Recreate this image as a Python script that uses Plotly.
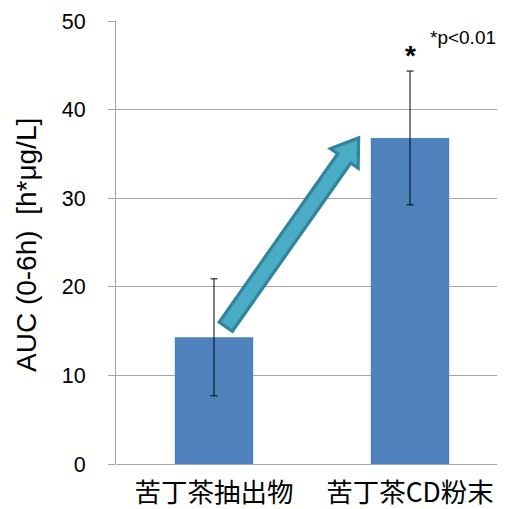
import numpy as np
import plotly.graph_objects as go

categories = ["苦丁茶抽出物", "苦丁茶CD粉末"]
auc_values = [14.3, 36.8]
auc_sd = [6.6, 7.55]
y_ticks = [0, 10, 20, 30, 40, 50]
y_title = "AUC (0-6h)\u00a0 [h*μg/L]"
sig_note = "*p<0.01"

W_FIG, H_FIG = 505, 509
M_L, M_R, M_T, M_B = 108, 0, 13, 53
X_RANGE = [-0.5, 1.5255]
Y_RANGE = [0, 50]
PW = W_FIG - M_L - M_R
PH = H_FIG - M_T - M_B

def to_px(x, y):
    px = M_L + (x - X_RANGE[0]) / (X_RANGE[1] - X_RANGE[0]) * PW
    py = M_T + (1 - (y - Y_RANGE[0]) / (Y_RANGE[1] - Y_RANGE[0])) * PH
    return np.array([px, py])

def to_data(p):
    x = X_RANGE[0] + (p[0] - M_L) / PW * (X_RANGE[1] - X_RANGE[0])
    y = Y_RANGE[0] + (1 - (p[1] - M_T) / PH) * (Y_RANGE[1] - Y_RANGE[0])
    return x, y

def paper(px, py):
    return (px - M_L) / PW, 1 - (py - M_T) / PH

xs = list(range(len(categories)))

fig = go.Figure()
fig.add_trace(go.Bar(
    x=xs, y=auc_values, width=0.4,
    marker=dict(color="#4F81BD", line=dict(width=0)),
    error_y=dict(type="data", array=auc_sd, visible=True, color="#000000",
                 thickness=1, width=3.5),
    showlegend=False,
))

# arrow from first bar toward second bar
p0 = to_px(xs[0] + 0.06, auc_values[0] + 1.2)
p1 = to_px(xs[1] - 0.262, auc_values[1])
u = (p1 - p0) / np.linalg.norm(p1 - p0)
n = np.array([-u[1], u[0]])
L = np.linalg.norm(p1 - p0)
hw, hh, hl = 8, 17, 25
neck = p0 + u * (L - hl)
pts = [p0 + n * hw, neck + n * hw, neck + n * hh, p1,
       neck - n * hh, neck - n * hw, p0 - n * hw]
dpts = [to_data(p) for p in pts]
path = "M " + " L ".join(f"{x:.5f},{y:.5f}" for x, y in dpts) + " Z"
fig.add_shape(type="path", path=path, xref="x", yref="y",
              fillcolor="#4BACC6", line=dict(color="#31849B", width=3.2),
              layer="above")

fig.add_annotation(x=xs[1], y=auc_values[1] + auc_sd[1], xref="x", yref="y",
                   text="<b>*</b>", showarrow=False, yanchor="bottom", yshift=-2,
                   font=dict(size=28, color="#000000", family="Liberation Sans"))
ax, ay = paper(490, 30)
fig.add_annotation(x=ax, y=ay, xref="paper", yref="paper", text=sig_note,
                   showarrow=False, xanchor="right", yanchor="middle",
                   font=dict(size=19, color="#000000", family="Liberation Sans"))
tx, ty = paper(18, 237)
fig.add_annotation(x=tx, y=ty, xref="paper", yref="paper", text=y_title,
                   textangle=-90, showarrow=False, xanchor="center",
                   yanchor="middle",
                   font=dict(size=28, color="#000000", family="Liberation Sans"))

fig.update_layout(
    width=W_FIG, height=H_FIG,
    margin=dict(l=M_L, r=M_R, t=M_T, b=M_B, pad=0),
    plot_bgcolor="white", paper_bgcolor="white",
    xaxis=dict(range=X_RANGE, tickvals=xs, ticktext=categories,
               showgrid=False, zeroline=False, showline=False, ticks="",
               ticklabelstandoff=10,
               tickfont=dict(size=26.5, color="#000000", family="Noto Sans CJK JP")),
    yaxis=dict(range=Y_RANGE, tickvals=y_ticks, showgrid=True,
               gridcolor="#A6A6A6", gridwidth=1, zeroline=True,
               zerolinecolor="#A6A6A6", zerolinewidth=1,
               showline=True, linecolor="#A6A6A6", linewidth=1,
               ticks="outside", ticklen=7, tickcolor="#A6A6A6",
               ticklabelstandoff=18,
               tickfont=dict(size=21.5, color="#000000", family="Liberation Sans")),
)

fig.write_html("out.html")
